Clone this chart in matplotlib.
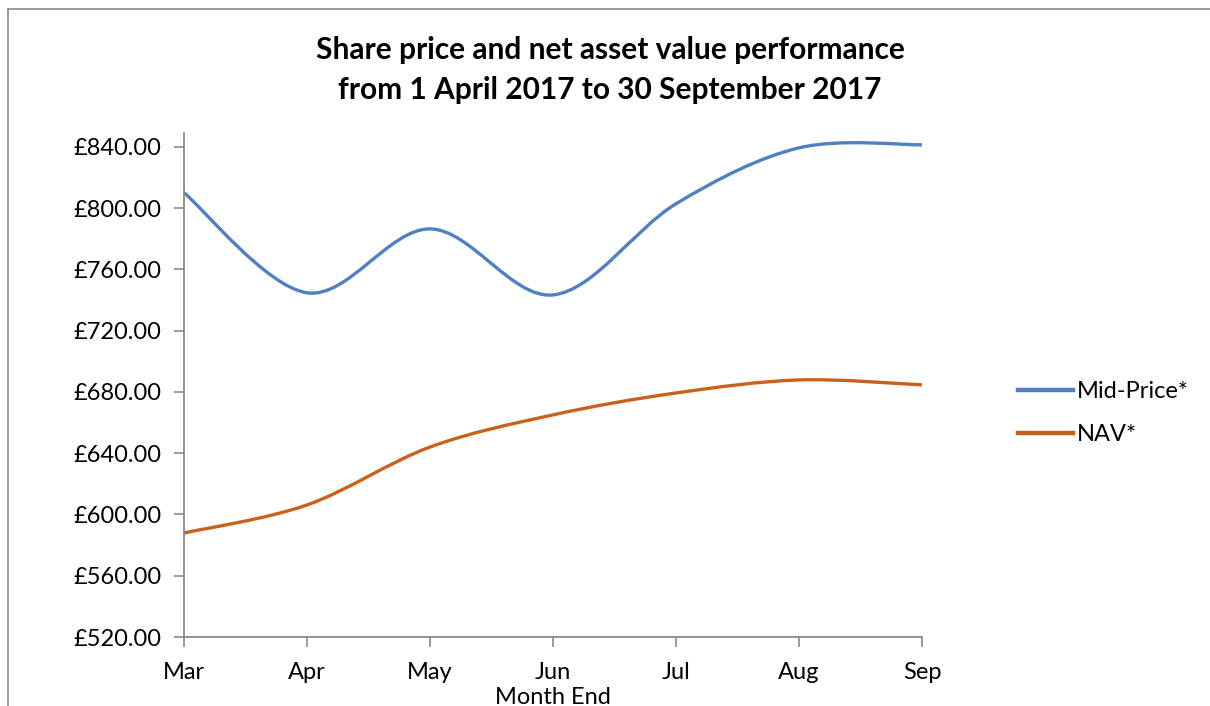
import matplotlib
matplotlib.use('Agg')
import matplotlib.pyplot as plt
from matplotlib.path import Path
from matplotlib.patches import PathPatch
from matplotlib.lines import Line2D

months = ['Mar', 'Apr', 'May', 'Jun', 'Jul', 'Aug', 'Sep']
mid_price = [810.0, 744.7, 786.4, 743.3, 802.8, 839.3, 841.3]
nav = [587.9, 606.2, 644.0, 665.0, 679.3, 687.8, 684.6]

plt.rcParams['font.family'] = ['Lato', 'DejaVu Sans']


def smooth_path(xs, ys):
    # Excel-style smoothed line: cubic bezier through every point
    verts = [(xs[0], ys[0])]
    codes = [Path.MOVETO]
    n = len(xs)
    for i in range(n - 1):
        x0, y0 = (xs[i - 1], ys[i - 1]) if i > 0 else (xs[i], ys[i])
        x3, y3 = (xs[i + 2], ys[i + 2]) if i + 2 < n else (xs[i + 1], ys[i + 1])
        c1 = (xs[i] + (xs[i + 1] - x0) / 6, ys[i] + (ys[i + 1] - y0) / 6)
        c2 = (xs[i + 1] - (x3 - xs[i]) / 6, ys[i + 1] - (y3 - ys[i]) / 6)
        verts += [c1, c2, (xs[i + 1], ys[i + 1])]
        codes += [Path.CURVE4] * 3
    return Path(verts, codes)


fig = plt.figure(figsize=(12.1, 7.06), dpi=100)
ax = fig.add_axes([184 / 1210, 1 - 637 / 706, (922 - 184) / 1210, (637 - 133) / 706])

x = list(range(len(months)))
series = [(mid_price, 'Mid-Price*', '#4F81C2'), (nav, 'NAV*', '#C8621B')]
for vals, lab, col in series:
    ax.add_patch(PathPatch(smooth_path(x, vals), facecolor='none', edgecolor=col,
                           lw=2.4, capstyle='round', joinstyle='round'))
    ax.plot([], [], color=col, lw=3.2, label=lab)

ax.set_xlim(0, 6)
ax.set_ylim(520, 849)
ax.set_yticks(range(520, 841, 40))
ax.set_yticklabels(['£%.2f' % v for v in range(520, 841, 40)])
ax.set_xticks(x)
ax.set_xticklabels(months)
for s in ['top', 'right']:
    ax.spines[s].set_visible(False)
for s in ['left', 'bottom']:
    ax.spines[s].set_color('#8a8a8a')
    ax.spines[s].set_linewidth(1.3)
ax.tick_params(axis='both', colors='#8a8a8a', length=7, width=1.2, labelsize=17,
               labelcolor='black')
ax.tick_params(axis='x', pad=11)
ax.tick_params(axis='y', pad=9)
ax.set_xlabel('Month End', fontsize=17, labelpad=3)

fig.text(610 / 1210, 1 - 70 / 706,
         'Share price and net asset value performance\nfrom 1 April 2017 to 30 September 2017',
         ha='center', va='center', fontsize=21.5, fontweight='bold', linespacing=1.55)

fig.legend(loc='center left', bbox_to_anchor=(997 / 1210, 1 - 413 / 706), frameon=False,
           fontsize=17, handlelength=2.3, handletextpad=0.2, labelspacing=0.95)

# outer chart border (left and top edges visible)
fig.add_artist(Line2D([8 / 1210, 8 / 1210], [0, 1 - 9 / 706], color='#8a8a8a', lw=1.2,
                      transform=fig.transFigure))
fig.add_artist(Line2D([8 / 1210, 1], [1 - 9 / 706, 1 - 9 / 706], color='#8a8a8a', lw=1.2,
                      transform=fig.transFigure))

fig.savefig('out.png', dpi=100)
